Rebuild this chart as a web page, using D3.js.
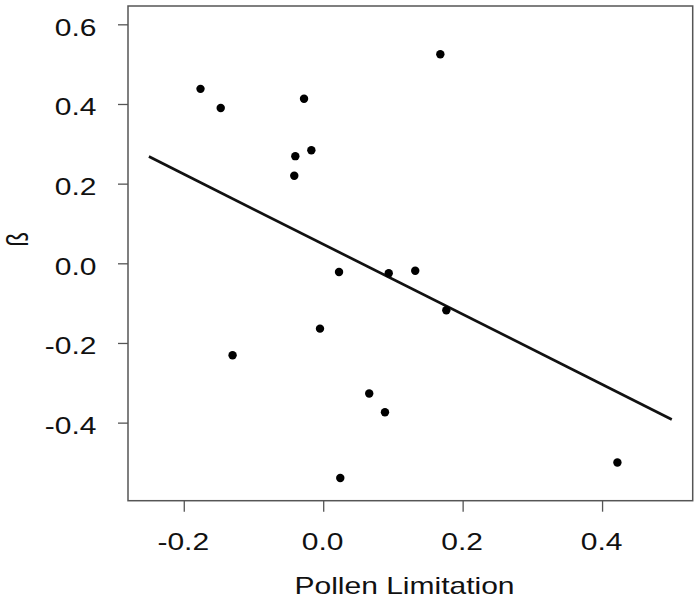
<!DOCTYPE html>
<html>
<head>
<meta charset="utf-8">
<script src="https://cdn.jsdelivr.net/npm/d3@7"></script>
<style>
  html, body { margin: 0; padding: 0; background: #fff; }
  svg { display: block; }
  text { font-family: "Liberation Sans", Arial, sans-serif; fill: #111; }
</style>
</head>
<body>
<svg id="chart" width="700" height="600"></svg>
<script>
// ---- data ----
const pollenLimitation = [-0.176, -0.147, -0.0275, 0.168, -0.017, -0.040, -0.0415, 0.0227, 0.094, 0.132, 0.1766, -0.0046, -0.130, 0.066, 0.0886, 0.0245, 0.422];
const betaValues       = [ 0.438,  0.390,  0.413,  0.525,  0.284,  0.269,  0.220, -0.022, -0.025, -0.0186, -0.118, -0.164, -0.231, -0.327, -0.374, -0.539, -0.500];
const fitX = [-0.25, 0.5];
const fitY = [0.268, -0.392];
const xTickValues = [-0.2, 0.0, 0.2, 0.4];
const xTickLabels = ["-0.2", "0.0", "0.2", "0.4"];
const yTickValues = [-0.4, -0.2, 0.0, 0.2, 0.4, 0.6];
const yTickLabels = ["-0.4", "-0.2", "0.0", "0.2", "0.4", "0.6"];
const xLim = [-0.25, 0.5];
const yLim = [-0.55, 0.6];
const xTitle = "Pollen Limitation";
const yTitle = "ß";

(function () {
// ---- layout ----
const pLeft = 128, pRight = 692.7, pTop = 6, pBottom = 500.7;
const stretch = 1.25;
const svg = d3.select("#chart");

// R-style 4% extension of the limits
const ext = (l) => { const d = (l[1] - l[0]) * 0.04; return [l[0] - d, l[1] + d]; };
const x = d3.scaleLinear().domain(ext(xLim)).range([pLeft, pRight]);
const y = d3.scaleLinear().domain(ext(yLim)).range([pBottom, pTop]);

const axisColor = "#555";

// y axis
const yAxis = d3.axisLeft(y).tickValues(yTickValues)
  .tickFormat((d, i) => yTickLabels[i]).tickSize(10).tickSizeOuter(0);
const gy = svg.append("g").attr("transform", `translate(${pLeft},0)`).call(yAxis);
gy.select(".domain").remove();
gy.selectAll(".tick line").attr("stroke", axisColor).attr("stroke-width", 1.3);
gy.selectAll(".tick text")
  .attr("x", null).attr("dy", null)
  .attr("text-anchor", "end")
  .attr("font-size", 24)
  .attr("font-family", "Liberation Sans, Arial, sans-serif")
  .attr("fill", "#111")
  .attr("transform", `translate(-31.5,11) scale(${stretch},1)`);

// x axis
const xAxis = d3.axisBottom(x).tickValues(xTickValues)
  .tickFormat((d, i) => xTickLabels[i]).tickSize(11).tickSizeOuter(0);
const gx = svg.append("g").attr("transform", `translate(0,${pBottom})`).call(xAxis);
gx.select(".domain").remove();
gx.selectAll(".tick line").attr("stroke", axisColor).attr("stroke-width", 1.3);
gx.selectAll(".tick text")
  .attr("y", null).attr("dy", null)
  .attr("text-anchor", "middle")
  .attr("font-size", 24)
  .attr("font-family", "Liberation Sans, Arial, sans-serif")
  .attr("fill", "#111")
  .attr("transform", `translate(-1,48.8) scale(${stretch},1)`);

// box
svg.append("rect")
  .attr("x", pLeft).attr("y", pTop)
  .attr("width", pRight - pLeft).attr("height", pBottom - pTop)
  .attr("fill", "none").attr("stroke", axisColor).attr("stroke-width", 1.5);

// fitted line
const fitData = fitX.map((d, i) => [d, fitY[i]]);
svg.append("path")
  .datum(fitData)
  .attr("d", d3.line().x(d => x(d[0])).y(d => y(d[1])))
  .attr("fill", "none").attr("stroke", "#111").attr("stroke-width", 2.7);

// points
const pts = pollenLimitation.map((d, i) => ({ x: d, y: betaValues[i] }));
svg.append("g").selectAll("circle").data(pts).join("circle")
  .attr("cx", d => x(d.x)).attr("cy", d => y(d.y))
  .attr("r", 4.2).attr("fill", "#000");

// axis titles
svg.append("text")
  .attr("text-anchor", "middle")
  .attr("font-size", 24)
  .attr("transform", `translate(404.5,594.3) scale(${stretch},1)`)
  .text(xTitle);

svg.append("text")
  .attr("text-anchor", "middle")
  .attr("font-size", 24)
  .attr("transform", `translate(27.5,239.5) scale(${stretch},1) rotate(-90)`)
  .text(yTitle);
})();
</script>
</body>
</html>
